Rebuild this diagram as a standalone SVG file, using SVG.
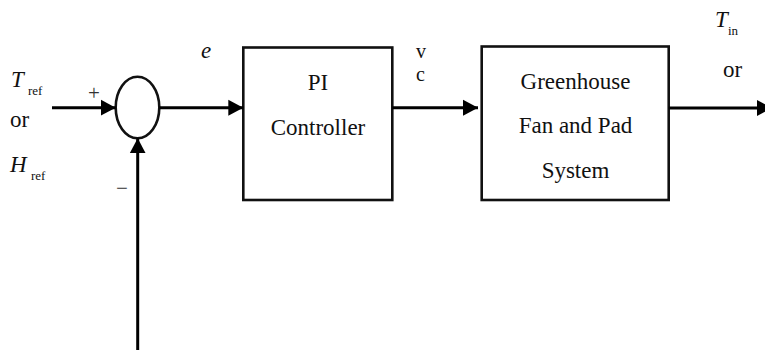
<svg xmlns="http://www.w3.org/2000/svg" width="765" height="350" viewBox="0 0 765 350">
<defs>
<marker id="ah" markerUnits="userSpaceOnUse" markerWidth="16" markerHeight="18" viewBox="0 0 16 18" refX="15" refY="9" orient="auto">
<path d="M0,1 L15,9 L0,17 Z" fill="#000"/>
</marker>
</defs>
<style>
.lbl{font-size:23px;}
.it{font-style:italic;}
.sub{font-size:13px;}
.sgn{font-size:21px;fill:#333;}
.box{fill:none;stroke:#111;stroke-width:2.6;}
.ln{fill:none;stroke:#000;stroke-width:3;}
</style>
<rect width="765" height="350" fill="#fff"/>
<g font-family="'Liberation Serif', 'Times New Roman', Times, serif" fill="#111">
<g id="sum">
<ellipse cx="137.5" cy="107.5" rx="21.8" ry="30.8" class="box"/>
<text x="94" y="100" class="sgn" text-anchor="middle">+</text>
<text x="122" y="195" class="sgn" text-anchor="middle">−</text>
</g>
<g id="pi">
<rect x="243.3" y="47.5" width="149" height="152.5" class="box"/>
<text x="318" y="90" class="lbl" text-anchor="middle">PI</text>
<text x="318" y="135" class="lbl" text-anchor="middle">Controller</text>
</g>
<g id="plant">
<rect x="481.7" y="46.5" width="187" height="153.5" class="box"/>
<text x="575.5" y="89.3" class="lbl" text-anchor="middle">Greenhouse</text>
<text x="575.5" y="133" class="lbl" text-anchor="middle">Fan and Pad</text>
<text x="575.5" y="177.7" class="lbl" text-anchor="middle">System</text>
</g>
<g id="labels">
<text x="11" y="86.7" class="lbl it">T</text><text x="28" y="95" class="sub">ref</text>
<text x="10" y="126.7" class="lbl">or</text>
<text x="10" y="171.7" class="lbl it">H</text><text x="31" y="180" class="sub">ref</text>
<text x="201" y="58" class="lbl it">e</text>
<text x="416" y="58" font-size="20">v</text>
<text x="416" y="81" font-size="20">c</text>
<text x="715" y="26.7" class="lbl it">T</text><text x="728" y="35" class="sub">in</text>
<text x="723" y="76.7" class="lbl">or</text>
</g>
</g>
<g id="connectors">
<line x1="52" y1="107.7" x2="115.7" y2="107.7" class="ln" marker-end="url(#ah)"/>
<line x1="159.3" y1="107.7" x2="243.3" y2="107.7" class="ln" marker-end="url(#ah)"/>
<line x1="392.3" y1="107.7" x2="478" y2="107.7" class="ln" marker-end="url(#ah)"/>
<line x1="668.7" y1="108" x2="772" y2="108" class="ln" marker-end="url(#ah)"/>
<line x1="137.7" y1="350" x2="137.7" y2="138.3" class="ln" marker-end="url(#ah)"/>
</g>
</svg>
